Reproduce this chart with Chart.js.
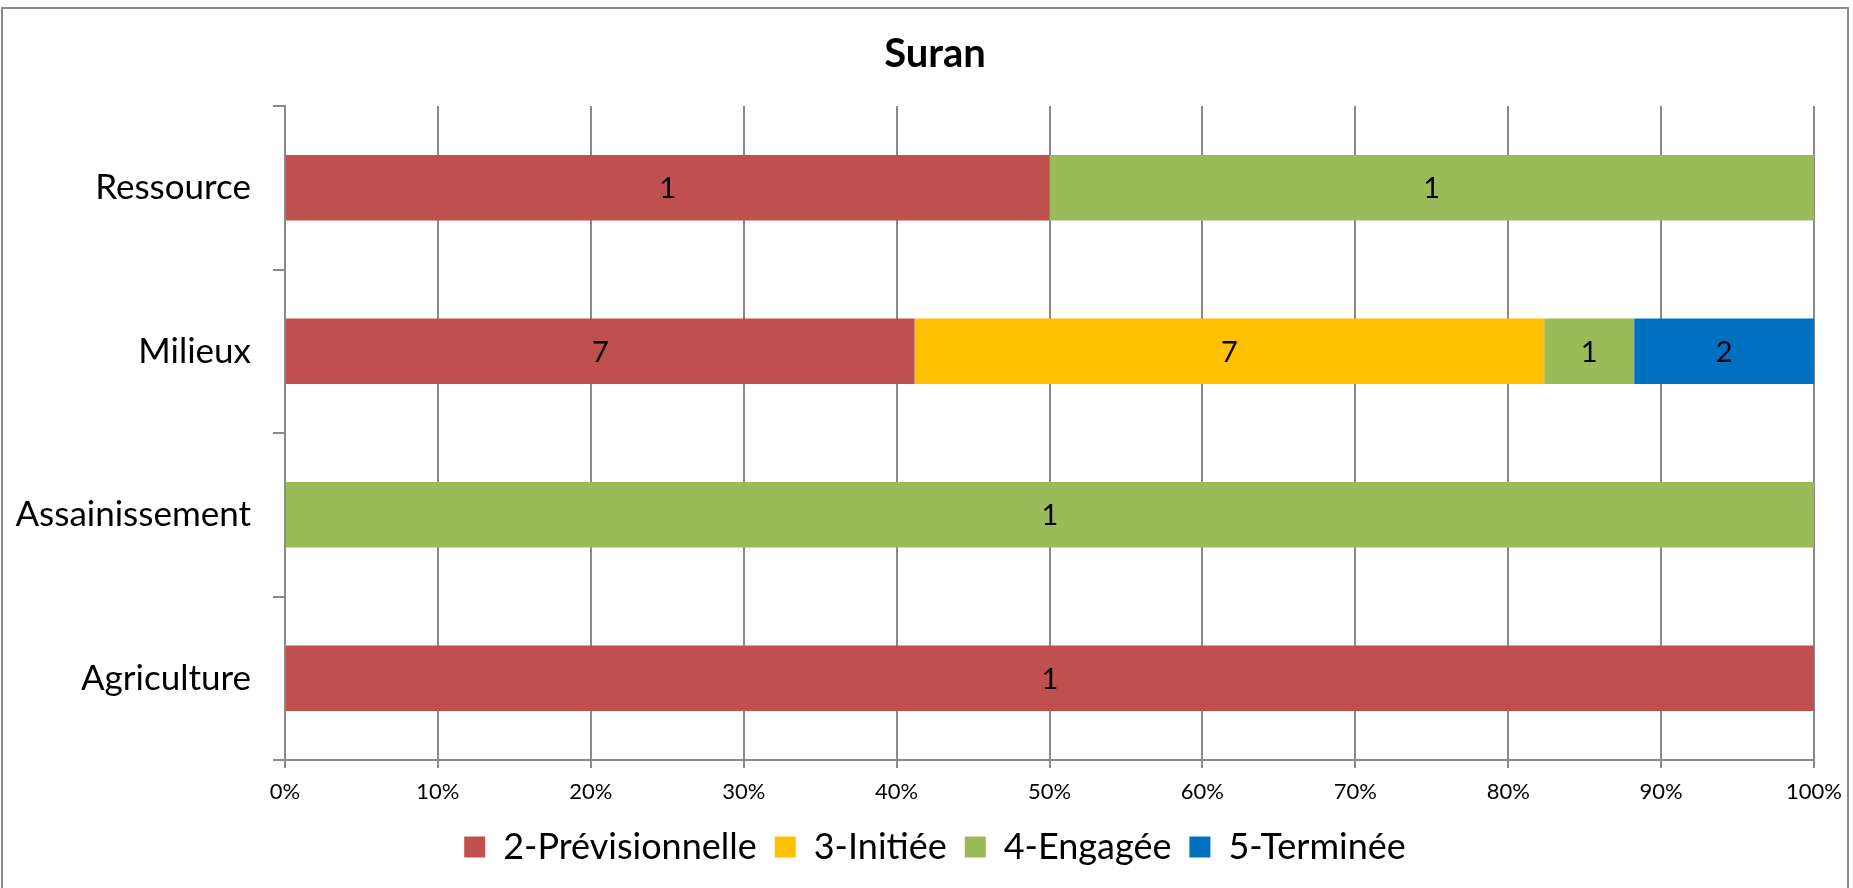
<!DOCTYPE html>
<html>
<head>
<meta charset="utf-8">
<script src="https://cdn.jsdelivr.net/npm/chart.js@4.4.1/dist/chart.umd.min.js"></script>
<style>
  html, body { margin: 0; padding: 0; background: #fff; overflow: hidden; }
  #wrap { position: relative; width: 1853px; height: 888px; }
  #frame { position: absolute; left: 1px; top: 7px; width: 1848px; height: 890px; border: 2px solid #8c8c8c; box-sizing: border-box; pointer-events: none; }
  canvas { position: absolute; left: 0; top: 0; }
</style>
</head>
<body>
<div id="wrap">
  <canvas id="c" width="1853" height="888"></canvas>
  <div id="frame"></div>
</div>
<script>
const chartTitle = 'Suran';
const categories = ['Ressource', 'Milieux', 'Assainissement', 'Agriculture'];
const seriesNames = ['2-Prévisionnelle', '3-Initiée', '4-Engagée', '5-Terminée'];
const seriesColors = ['#C0504D', '#FFC000', '#9BBB59', '#0070C0'];
const prevCounts = [1, 7, 0, 1];
const initCounts = [0, 7, 0, 0];
const engCounts = [1, 1, 1, 0];
const termCounts = [0, 2, 0, 0];
const xTicks = [0, 10, 20, 30, 40, 50, 60, 70, 80, 90, 100];

const seriesCounts = [prevCounts, initCounts, engCounts, termCounts];
const totals = categories.map((_, i) => seriesCounts.reduce((s, arr) => s + arr[i], 0));

const FONT = 'Lato, "Open Sans", sans-serif';
const GRID = '#8a8a8a';

const datasets = seriesNames.map((name, k) => ({
  label: name,
  data: seriesCounts[k].map((v, i) => totals[i] ? v / totals[i] * 100 : 0),
  counts: seriesCounts[k],
  backgroundColor: seriesColors[k],
  borderWidth: 0,
  categoryPercentage: 0.4,
  barPercentage: 1.0
}));

const labelPlugin = {
  id: 'segLabels',
  afterDatasetsDraw(chart) {
    const ctx = chart.ctx;
    ctx.save();
    ctx.font = '29px ' + FONT;
    ctx.fillStyle = '#000';
    ctx.textAlign = 'center';
    ctx.textBaseline = 'middle';
    chart.data.datasets.forEach((ds, di) => {
      const meta = chart.getDatasetMeta(di);
      meta.data.forEach((el, i) => {
        const c = ds.counts[i];
        if (!c) return;
        const p = el.getCenterPoint();
        ctx.fillText(String(c), p.x, p.y + 1);
      });
    });
    ctx.restore();
  }
};

// Center title and legend on the region right of the outer left margin (as in the reference)
const shiftPlugin = {
  id: 'shiftBlocks',
  afterLayout(chart) {
    const off = 53;
    if (chart.titleBlock) { chart.titleBlock.left = off; }
    if (chart.legend) { chart.legend.left = off; }
  }
};

new Chart(document.getElementById('c'), {
  type: 'bar',
  data: { labels: categories, datasets },
  options: {
    indexAxis: 'y',
    responsive: false,
    animation: false,
    layout: { padding: { left: 0, right: 36, top: 0, bottom: 13 } },
    plugins: {
      title: {
        display: true,
        text: chartTitle,
        color: '#000',
        font: { family: FONT, size: 40, weight: 'bold' },
        padding: { top: 30, bottom: 28 }
      },
      legend: {
        position: 'bottom',
        labels: {
          color: '#000',
          font: { family: FONT, size: 36 },
          boxWidth: 21,
          boxHeight: 21,
          padding: 18
        }
      },
      tooltip: { enabled: false }
    },
    scales: {
      x: {
        stacked: true,
        min: 0,
        max: 100,
        afterBuildTicks(scale) { scale.ticks = xTicks.map(v => ({ value: v })); },
        afterFit(scale) { scale.height = 51; },
        ticks: {
          color: '#000',
          font: { family: FONT, size: 22 },
          padding: 11,
          callback: v => v + '%'
        },
        grid: { color: GRID, lineWidth: 2, drawTicks: true, tickLength: 8, tickColor: GRID },
        border: { display: true, color: GRID, width: 2 }
      },
      y: {
        stacked: true,
        afterFit(scale) { scale.width = 285; },
        ticks: {
          color: '#000',
          font: { family: FONT, size: 35 },
          padding: 22
        },
        grid: { offset: true, drawOnChartArea: false, drawTicks: true, tickLength: 12, color: GRID, lineWidth: 2 },
        border: { display: true, color: GRID, width: 2 }
      }
    }
  },
  plugins: [labelPlugin, shiftPlugin]
});
</script>
</body>
</html>
